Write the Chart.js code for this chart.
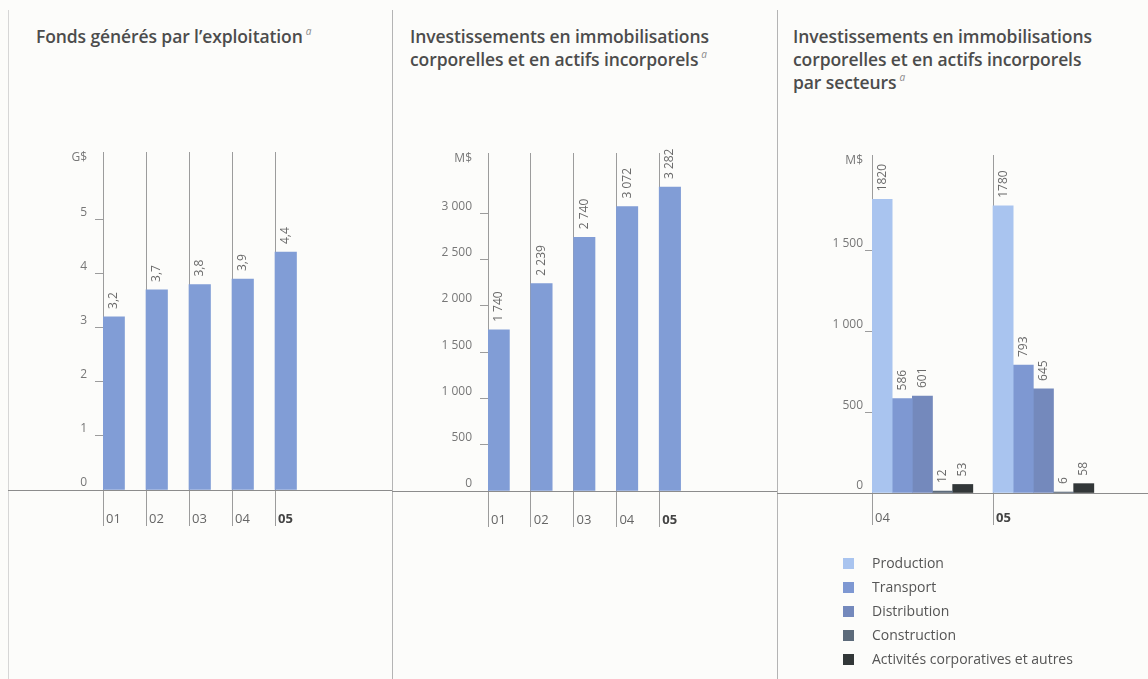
<!DOCTYPE html>
<html lang="fr">
<head>
<meta charset="utf-8">
<script src="https://cdn.jsdelivr.net/npm/chart.js@4.4.1/dist/chart.umd.min.js"></script>
<style>
  html, body { margin: 0; padding: 0; background: #fcfcfa; }
  body { width: 1148px; height: 679px; position: relative; overflow: hidden; font-family: "Open Sans", sans-serif; }
  .box { position: absolute; top: 0; height: 679px; }
  .sep { position: absolute; top: 10px; bottom: 0; width: 1px; background: #b4b4b4; }
  .title { position: absolute; top: 25px; font-weight: 600; font-size: 17.5px; line-height: 23px; color: #4c4c4c; letter-spacing: -0.1px; }
  .title sup { font-style: italic; font-weight: 400; font-size: 10px; color: #8a8a8a; vertical-align: 0; position: relative; top: -8px; margin-left: 3px; }
  #legend { position: absolute; left: 843px; top: 552px; }
  #legend div { height: 24px; line-height: 22px; font-size: 14px; color: #555; white-space: nowrap; }
  #legend span { display: inline-block; width: 11px; height: 11px; margin-right: 18px; vertical-align: -1px; }
</style>
</head>
<body>
<div class="sep" style="left:8px; background:#d6d6d6"></div>
<div class="sep" style="left:392px"></div>
<div class="sep" style="left:777px"></div>

<div class="title" style="left:36px">Fonds générés par l’exploitation<sup>a</sup></div>
<div class="title" style="left:410px">Investissements en immobilisations<br>corporelles et en actifs incorporels<sup>a</sup></div>
<div class="title" style="left:793px">Investissements en immobilisations<br>corporelles et en actifs incorporels<br>par secteurs<sup>a</sup></div>

<div class="box" style="left:0; width:392px"><canvas id="fonds"></canvas></div>
<div class="box" style="left:392px; width:385px"><canvas id="invest"></canvas></div>
<div class="box" style="left:777px; width:371px"><canvas id="secteurs"></canvas></div>
<div id="legend"></div>

<script>
// Fonds générés par l'exploitation (G$)
const years = ['01', '02', '03', '04', '05'];
const fondsExploitation = [3.2, 3.7, 3.8, 3.9, 4.4];
const fondsTicks = [0, 1, 2, 3, 4, 5];

// Investissements en immobilisations (M$)
const investissements = [1740, 2239, 2740, 3072, 3282];
const investTicks = [0, 500, 1000, 1500, 2000, 2500, 3000];

// Investissements par secteurs (M$)
const secteurYears = ['04', '05'];
const secteurNames = ['Production', 'Transport', 'Distribution', 'Construction', 'Activités corporatives et autres'];
const production = [1820, 1780];
const transport = [586, 793];
const distribution = [601, 645];
const construction = [12, 6];
const activites = [53, 58];
const secteurTicks = [0, 500, 1000, 1500];

const barBlue = '#819dd6';
const secteurColors = ['#a9c4ef', '#7e98d2', '#7489bc', '#5c6a7a', '#323738'];
const gridColor = '#9c9c9c';
const FONT = '"Open Sans", sans-serif';
const Y_WIDTH = 70;

const withSpaces = v => String(v).replace(/\B(?=(\d{3})+(?!\d))/g, ' ');
const withComma = v => v.toFixed(1).replace('.', ',');

// full-width axis line, unit label and rotated value labels
const decorPlugin = {
  id: 'decor',
  beforeDatasetsDraw(chart, args, opts) {
    const { ctx, chartArea } = chart;
    const y0 = Math.round(chart.scales.y.getPixelForValue(0)) + 0.5;
    ctx.save();
    ctx.strokeStyle = '#8c8c8c';
    ctx.lineWidth = 1;
    ctx.beginPath();
    ctx.moveTo(opts.lineFrom || 0, y0);
    ctx.lineTo(chart.width, y0);
    ctx.stroke();
    ctx.fillStyle = '#777';
    ctx.font = '12px ' + FONT;
    ctx.textAlign = 'right';
    ctx.textBaseline = 'middle';
    ctx.fillText(opts.unit, chartArea.left - opts.unitGap, chartArea.top + 6);
    ctx.restore();
  },
  afterDatasetsDraw(chart, args, opts) {
    const { ctx } = chart;
    ctx.save();
    ctx.font = '12px ' + FONT;
    ctx.fillStyle = '#6a6a6a';
    ctx.textAlign = 'left';
    ctx.textBaseline = 'middle';
    chart.data.datasets.forEach((ds, di) => {
      if (!ds.data.length) return;
      chart.getDatasetMeta(di).data.forEach((bar, i) => {
        ctx.save();
        ctx.translate(bar.x, bar.y - 8);
        ctx.rotate(-Math.PI / 2);
        ctx.fillText(opts.format(ds.data[i]), 0, 0);
        ctx.restore();
      });
    });
    ctx.restore();
  }
};

function makeChart(id, cfg) {
  const last = cfg.labels.length - 1;
  return new Chart(document.getElementById(id), {
    type: 'bar',
    data: { labels: cfg.labels, datasets: cfg.datasets },
    options: {
      responsive: true,
      maintainAspectRatio: false,
      animation: false,
      layout: { padding: cfg.padding },
      datasets: { bar: { categoryPercentage: 1, barPercentage: 1 } },
      plugins: {
        legend: { display: false },
        tooltip: { enabled: false },
        decor: { unit: cfg.unit, unitGap: cfg.yTick + cfg.yPad, format: cfg.format, lineFrom: cfg.lineFrom }
      },
      scales: {
        x: {
          offset: true,
          grid: {
            offset: true,
            color: c => c.type === 'tick' ? gridColor : 'rgba(0,0,0,0)',
            lineWidth: 1,
            tickLength: cfg.xTick
          },
          border: { display: false },
          ticks: {
            align: 'start',
            labelOffset: -cfg.catWidth / 2 + 3,
            padding: -15,
            color: c => c.index === last ? '#444' : '#666',
            font: c => ({ family: FONT, size: 13, weight: c.index === last ? 'bold' : 'normal' })
          },
          afterFit: s => { s.height = 40; s.paddingLeft = 0; s.paddingRight = 0; }
        },
        y: {
          min: 0,
          max: cfg.max,
          afterBuildTicks: s => { s.ticks = cfg.ticks.map(v => ({ value: v })); },
          grid: { drawOnChartArea: false, tickLength: cfg.yTick, color: gridColor },
          border: { display: false },
          ticks: {
            padding: cfg.yPad,
            labelOffset: -7,
            color: '#777',
            font: { family: FONT, size: 12 },
            callback: v => cfg.tickFormat(v)
          },
          afterFit: s => { s.width = Y_WIDTH; s.paddingTop = 0; s.paddingBottom = 0; }
        }
      }
    },
    plugins: [decorPlugin]
  });
}

makeChart('fonds', {
  labels: years,
  datasets: [
    { data: fondsExploitation, backgroundColor: barBlue },
    { data: [] }
  ],
  max: 6.25,
  ticks: fondsTicks,
  tickFormat: v => String(v),
  format: withComma,
  unit: 'G$',
  catWidth: 43,
  xTick: 36,
  yTick: 8,
  yPad: 8,
  lineFrom: 8,
  padding: { left: 103 - Y_WIDTH, right: 74, top: 152, bottom: 149 }
});

makeChart('invest', {
  labels: years,
  datasets: [
    { data: investissements, backgroundColor: barBlue },
    { data: [] }
  ],
  max: 3650,
  ticks: investTicks,
  tickFormat: withSpaces,
  format: withSpaces,
  unit: 'M$',
  catWidth: 42.8,
  xTick: 36,
  yTick: 8,
  yPad: 8,
  padding: { left: 96 - Y_WIDTH, right: 75, top: 153, bottom: 148 }
});

const secteurSeries = [production, transport, distribution, construction, activites];
makeChart('secteurs', {
  labels: secteurYears,
  datasets: secteurSeries.map((s, i) => ({ label: secteurNames[i], data: s, backgroundColor: secteurColors[i] }))
    .concat([{ data: [] }]),
  max: 2095,
  ticks: secteurTicks,
  tickFormat: withSpaces,
  format: v => String(v),
  unit: 'M$',
  catWidth: 121,
  xTick: 32,
  yTick: 7,
  yPad: 2,
  padding: { left: 95 - Y_WIDTH, right: 34, top: 155, bottom: 146 }
});

// legend built from the series names and colours
const legend = document.getElementById('legend');
secteurNames.forEach((name, i) => {
  const row = document.createElement('div');
  const sw = document.createElement('span');
  sw.style.background = secteurColors[i];
  row.appendChild(sw);
  row.appendChild(document.createTextNode(name));
  legend.appendChild(row);
});
</script>
</body>
</html>
